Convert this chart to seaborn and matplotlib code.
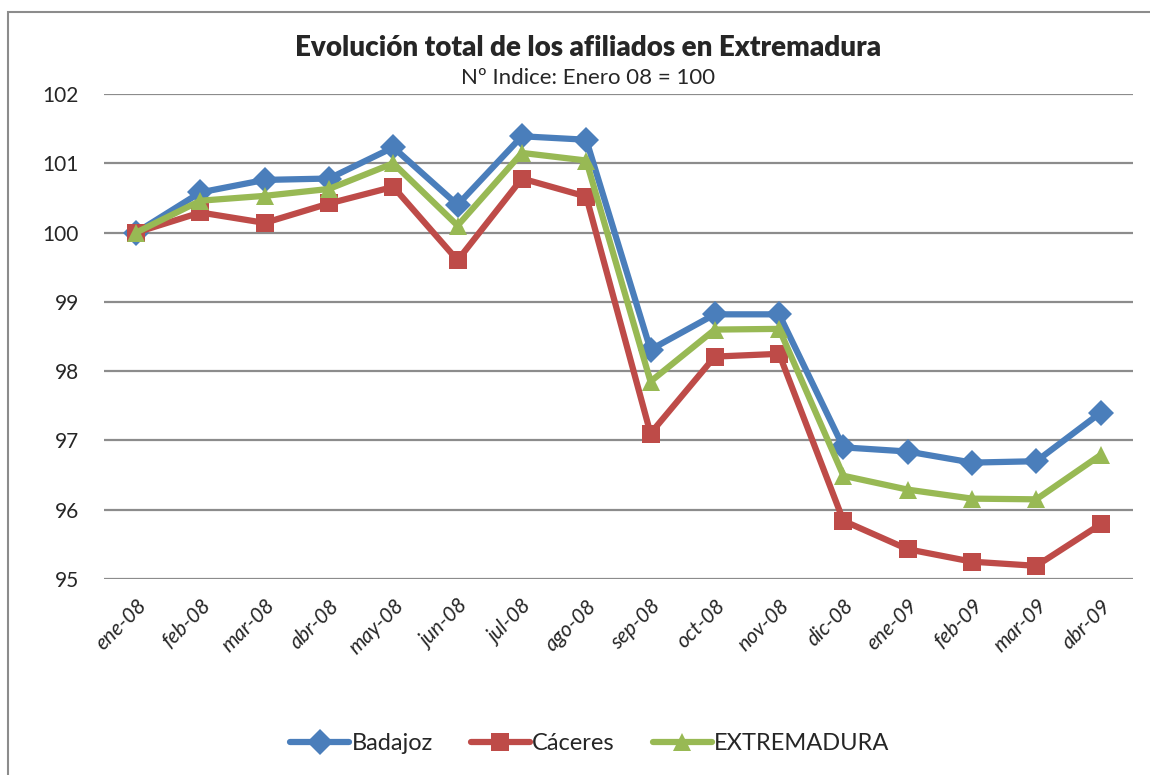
import matplotlib.pyplot as plt
import matplotlib.patches as mpatches
import pandas as pd
import seaborn as sns

months = ["ene-08", "feb-08", "mar-08", "abr-08", "may-08", "jun-08", "jul-08", "ago-08",
          "sep-08", "oct-08", "nov-08", "dic-08", "ene-09", "feb-09", "mar-09", "abr-09"]
badajoz = [100.0, 100.58, 100.76, 100.78, 101.23, 100.40, 101.39, 101.34,
           98.31, 98.82, 98.82, 96.90, 96.84, 96.68, 96.70, 97.40]
caceres = [100.0, 100.29, 100.14, 100.42, 100.66, 99.60, 100.78, 100.52,
           97.10, 98.21, 98.25, 95.84, 95.43, 95.25, 95.19, 95.79]
extremadura = [100.0, 100.46, 100.53, 100.63, 101.00, 100.10, 101.15, 101.04,
               97.85, 98.60, 98.61, 96.49, 96.29, 96.16, 96.15, 96.79]
series = ["Badajoz", "Cáceres", "EXTREMADURA"]
colors = ["#4A7EBB", "#BE4B48", "#98B954"]
markers = ["D", "s", "^"]

rows = []
for name, vals in zip(series, [badajoz, caceres, extremadura]):
    for i, v in enumerate(vals):
        rows.append({"pos": i, "valor": v, "serie": name})
df = pd.DataFrame(rows)

sns.set_style("white")
plt.rcParams["font.family"] = ["Lato", "DejaVu Sans"]

fig = plt.figure(figsize=(11.5, 7.75), dpi=100)
ax = fig.add_axes([0.0904, 0.2529, 0.8946, 0.6258])

# chart frame like Excel
fig.patches.append(mpatches.Rectangle((8 / 1150, -0.1), 1.2, 1 - 12 / 775 + 0.1,
                                      transform=fig.transFigure, fill=False,
                                      edgecolor="#8c8c8c", linewidth=1.5))

sns.lineplot(data=df, x="pos", y="valor", hue="serie", style="serie",
             palette=colors, markers=markers, dashes=False, linewidth=4.5,
             markersize=13, markeredgewidth=0, ax=ax, legend=False)

ax.set_xlim(-0.5, len(months) - 0.5)
ax.set_ylim(95, 102)
ax.set_yticks(range(95, 103))
ax.set_xticks(range(len(months)))
ax.set_xticklabels(months, rotation=45, ha="right", rotation_mode="anchor",
                   fontstyle="italic", fontsize=15)
ax.tick_params(axis="x", pad=12, length=0)
ax.tick_params(axis="y", labelsize=15, length=0)
ax.yaxis.set_tick_params(pad=18)
ax.yaxis.grid(True, color="#8c8c8c", linewidth=1.6)
ax.set_axisbelow(True)
for s in ax.spines.values():
    s.set_visible(False)
ax.set_xlabel("")
ax.set_ylabel("")

fig.text(0.511, 0.938, "Evolución total de los afiliados en Extremadura",
         ha="center", va="center", fontsize=20, fontweight="heavy")
fig.text(0.511, 0.900, "Nº Indice: Enero 08 = 100", ha="center", va="center", fontsize=16)

handles = [plt.Line2D([], [], color=c, marker=m, linewidth=4.5, markersize=13,
                      markeredgewidth=0) for c, m in zip(colors, markers)]
fig.legend(handles, series, loc="center", bbox_to_anchor=(0.513, 0.04), ncol=3,
           frameon=False, fontsize=17, handlelength=2.5, handletextpad=0.1,
           columnspacing=1.6)

fig.savefig("out.png", dpi=100)
